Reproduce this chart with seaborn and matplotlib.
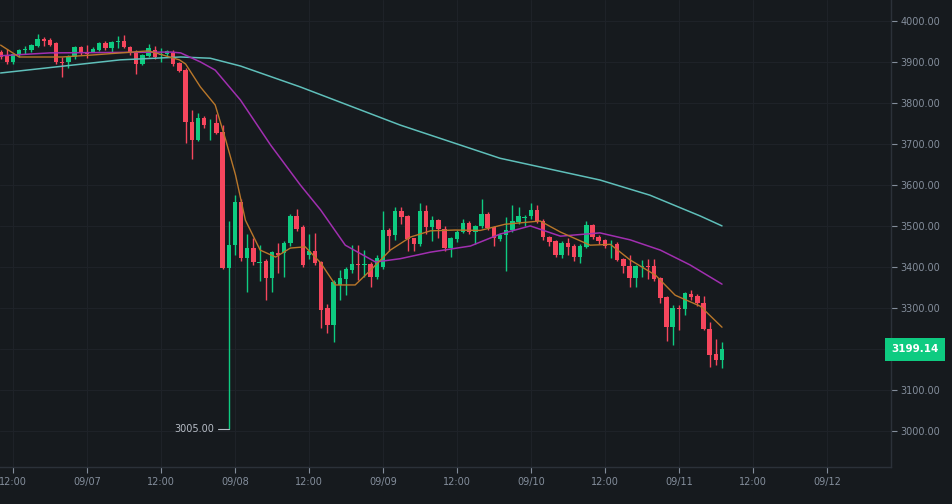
import numpy as np
import pandas as pd
import matplotlib
matplotlib.use("Agg")
import matplotlib.pyplot as plt
import seaborn as sns

# hourly candles, index 0 = 09/06 10:00, index 38 = 09/08 00:00
opens = [3924, 3917, 3901, 3917, 3928, 3928, 3939, 3956, 3954, 3945,
         3901, 3899, 3911, 3937, 3921, 3923, 3928, 3945, 3933, 3948,
         3951, 3937, 3925, 3895, 3915, 3930, 3918, 3919, 3921, 3898,
         3880, 3754, 3710, 3763, 3748, 3750, 3729, 3397, 3453, 3559,
         3421, 3446, 3410, 3414, 3373, 3434, 3434, 3458, 3524, 3497,
         3429, 3439, 3412, 3300, 3258, 3356, 3370, 3392, 3408, 3404,
         3407, 3375, 3399, 3490, 3478, 3536, 3523, 3471, 3457, 3536,
         3498, 3514, 3492, 3447, 3468, 3484, 3506, 3484, 3500, 3528,
         3497, 3469, 3479, 3490, 3510, 3520, 3523, 3540, 3513, 3472,
         3463, 3429, 3459, 3452, 3423, 3449, 3502, 3474, 3466, 3450,
         3457, 3419, 3402, 3374, 3401, 3403, 3402, 3372, 3326, 3254,
         3301, 3297, 3333, 3330, 3313, 3248, 3187, 3173]
closes = [3913, 3901, 3919, 3929, 3931, 3941, 3956, 3952, 3941, 3899,
          3898, 3913, 3937, 3921, 3920, 3932, 3946, 3933, 3948, 3950,
          3936, 3921, 3895, 3917, 3935, 3912, 3920, 3927, 3895, 3879,
          3754, 3710, 3763, 3746, 3749, 3727, 3397, 3453, 3559, 3421,
          3446, 3412, 3413, 3373, 3436, 3430, 3458, 3524, 3492, 3404,
          3440, 3410, 3295, 3258, 3363, 3373, 3395, 3407, 3404, 3407,
          3375, 3422, 3490, 3475, 3536, 3521, 3467, 3457, 3536, 3498,
          3514, 3492, 3447, 3470, 3486, 3506, 3484, 3500, 3528, 3494,
          3470, 3479, 3491, 3512, 3524, 3522, 3540, 3513, 3472, 3461,
          3429, 3459, 3449, 3423, 3451, 3502, 3472, 3464, 3451, 3452,
          3417, 3402, 3374, 3402, 3403, 3399, 3370, 3325, 3254, 3299,
          3297, 3336, 3327, 3311, 3248, 3185, 3173, 3199.14]
highs = [3930, 3931, 3922, 3932, 3938, 3944, 3967, 3961, 3958, 3948,
         3913, 3916, 3940, 3940, 3941, 3936, 3949, 3950, 3951, 3962,
         3966, 3940, 3928, 3919, 3944, 3938, 3933, 3930, 3930, 3900,
         3885, 3783, 3775, 3768, 3760, 3773, 3745, 3512, 3575, 3566,
         3480, 3470, 3453, 3420, 3440, 3458, 3462, 3530, 3541, 3502,
         3480, 3482, 3415, 3310, 3368, 3392, 3400, 3453, 3453, 3441,
         3412, 3430, 3537, 3495, 3547, 3547, 3526, 3465, 3557, 3550,
         3525, 3518, 3500, 3474, 3490, 3517, 3512, 3503, 3565, 3533,
         3500, 3482, 3522, 3551, 3547, 3526, 3557, 3552, 3516, 3476,
         3466, 3462, 3470, 3455, 3455, 3512, 3505, 3478, 3469, 3465,
         3460, 3421, 3428, 3405, 3417, 3420, 3419, 3375, 3330, 3307,
         3307, 3338, 3343, 3334, 3330, 3265, 3225, 3217]
lows = [3908, 3895, 3895, 3912, 3920, 3925, 3937, 3940, 3938, 3896,
        3862, 3885, 3908, 3918, 3910, 3928, 3926, 3930, 3922, 3935,
        3933, 3918, 3870, 3893, 3912, 3908, 3900, 3915, 3890, 3875,
        3702, 3663, 3708, 3740, 3710, 3724, 3395, 3005, 3429, 3415,
        3339, 3405, 3365, 3319, 3338, 3385, 3375, 3450, 3488, 3400,
        3420, 3405, 3251, 3240, 3217, 3320, 3331, 3385, 3368, 3375,
        3350, 3370, 3394, 3440, 3466, 3505, 3440, 3440, 3452, 3480,
        3462, 3470, 3440, 3425, 3460, 3482, 3480, 3455, 3495, 3490,
        3450, 3462, 3390, 3486, 3505, 3500, 3518, 3508, 3465, 3450,
        3425, 3422, 3430, 3415, 3409, 3445, 3468, 3455, 3445, 3422,
        3414, 3385, 3350, 3352, 3375, 3371, 3366, 3313, 3220, 3210,
        3247, 3283, 3320, 3305, 3245, 3155, 3160, 3153]

# moving averages (candle index, price)
ma7_x = [0, 3, 10, 15, 24, 29, 30, 32.4, 34.8, 36.5, 38.1, 39.7, 42.1, 44.6,
         47, 49.4, 51.9, 54.3, 57.5, 60, 63.2, 66.5, 69.7, 73.7, 77.8, 81.8,
         87.5, 90.8, 95.6, 98.9, 102.1, 106.2, 109.4, 113.5, 117]
ma7_y = [3941, 3912, 3912, 3917, 3927, 3905, 3895, 3839, 3795, 3710, 3624,
         3514, 3441, 3424, 3446, 3449, 3410, 3356, 3356, 3392, 3441, 3473,
         3488, 3490, 3489, 3504, 3512, 3485, 3453, 3455, 3417, 3380, 3331,
         3304, 3253]
ma25_x = [0, 8, 27.6, 29.2, 32.4, 34.8, 38.9, 43.8, 48.6, 51.9, 55.9, 60.8,
          64.8, 69.7, 76.2, 81, 85.9, 90.8, 97.2, 102.1, 107, 111.8, 117]
ma25_y = [3915, 3922, 3924, 3922, 3900, 3880, 3807, 3697, 3600, 3539, 3453,
          3412, 3420, 3436, 3451, 3480, 3500, 3475, 3483, 3466, 3441, 3405,
          3358]
ma99_x = [0, 19.4, 29.2, 34, 38.9, 48.6, 64.8, 81, 97.2, 105.3, 113.5, 117]
ma99_y = [3873, 3905, 3912, 3909, 3890, 3839, 3746, 3665, 3612, 3575, 3524,
          3500]

tick_pos = [2, 14, 26, 38, 50, 62, 74, 86, 98, 110, 122, 134]
tick_lab = ["12:00", "09/07", "12:00", "09/08", "12:00", "09/09", "12:00",
            "09/10", "12:00", "09/11", "12:00", "09/12"]
ytick_vals = [3000, 3100, 3200, 3300, 3400, 3500, 3600, 3700, 3800, 3900, 4000]

BG = "#161a1e"
GRID = "#1e2228"
UP = "#0ecb81"
DOWN = "#f6465d"
TXT = "#848e9c"

sns.set_theme(style="dark")
plt.rcParams["font.family"] = ["DejaVu Sans"]

df = pd.DataFrame({"o": opens, "h": highs, "l": lows, "c": closes})
df["i"] = np.arange(len(df))
up = df["c"] >= df["o"]

fig = plt.figure(figsize=(9.52, 5.04), dpi=100, facecolor=BG)
ax = fig.add_axes([0, 37 / 504, 891 / 952, 467 / 504])
ax.set_facecolor(BG)
ax.set_xlim(-0.1, 891 / 6.17)
ax.set_ylim(2912, 4051)

for t in tick_pos:
    ax.axvline(t, color=GRID, lw=0.8, zorder=0)
for v in ytick_vals:
    ax.axhline(v, color=GRID, lw=0.8, zorder=0)

cols = np.where(up, UP, DOWN)
ax.vlines(df["i"], df["l"], df["h"], colors=cols, lw=1, zorder=2)
body_b = np.minimum(df["o"], df["c"])
body_h = np.maximum(np.abs(df["c"] - df["o"]), 1.5)
ax.bar(df["i"], body_h, bottom=body_b, width=0.72, color=cols, zorder=3, linewidth=0)

sns.lineplot(x=ma99_x, y=ma99_y, ax=ax, color="#5fbfba", lw=1.1, zorder=4)
sns.lineplot(x=ma25_x, y=ma25_y, ax=ax, color="#a12fb0", lw=1.1, zorder=4)
sns.lineplot(x=ma7_x, y=ma7_y, ax=ax, color="#b9772a", lw=1.0, zorder=4)

# low marker
low_i = int(df["l"].idxmin())
ax.plot([low_i - 1.8, low_i], [df["l"][low_i]] * 2, color="#b7bdc6", lw=0.8)
ax.text(low_i - 2.3, df["l"][low_i], f"{df['l'][low_i]:.2f}", color="#b7bdc6",
        fontsize=7, ha="right", va="center")

ax.set_xticks(tick_pos)
ax.set_xticklabels(tick_lab)
ax.yaxis.tick_right()
ax.set_yticks(ytick_vals)
ax.set_yticklabels([f"{v:.2f}" for v in ytick_vals])
ax.tick_params(axis="both", colors=TXT, labelcolor=TXT, labelsize=7,
               length=4, width=0.8, direction="out", pad=3)
ax.tick_params(axis="x", bottom=True)
ax.tick_params(axis="y", right=True)
for s in ["top", "left"]:
    ax.spines[s].set_visible(False)
for s in ["bottom", "right"]:
    ax.spines[s].set_visible(True)
    ax.spines[s].set_color("#2b3139")
    ax.spines[s].set_linewidth(1)

# last price label, drawn over the axis labels as in the exchange UI
ax.text(1.0, closes[-1], f"{closes[-1]:.2f}", transform=ax.get_yaxis_transform(),
        color="white", fontsize=7.5, fontweight="bold", ha="left", va="center",
        zorder=10, clip_on=False,
        bbox=dict(boxstyle="square,pad=0.6", fc=UP, ec="none"))

fig.savefig("out.png", dpi=100, facecolor=BG)
